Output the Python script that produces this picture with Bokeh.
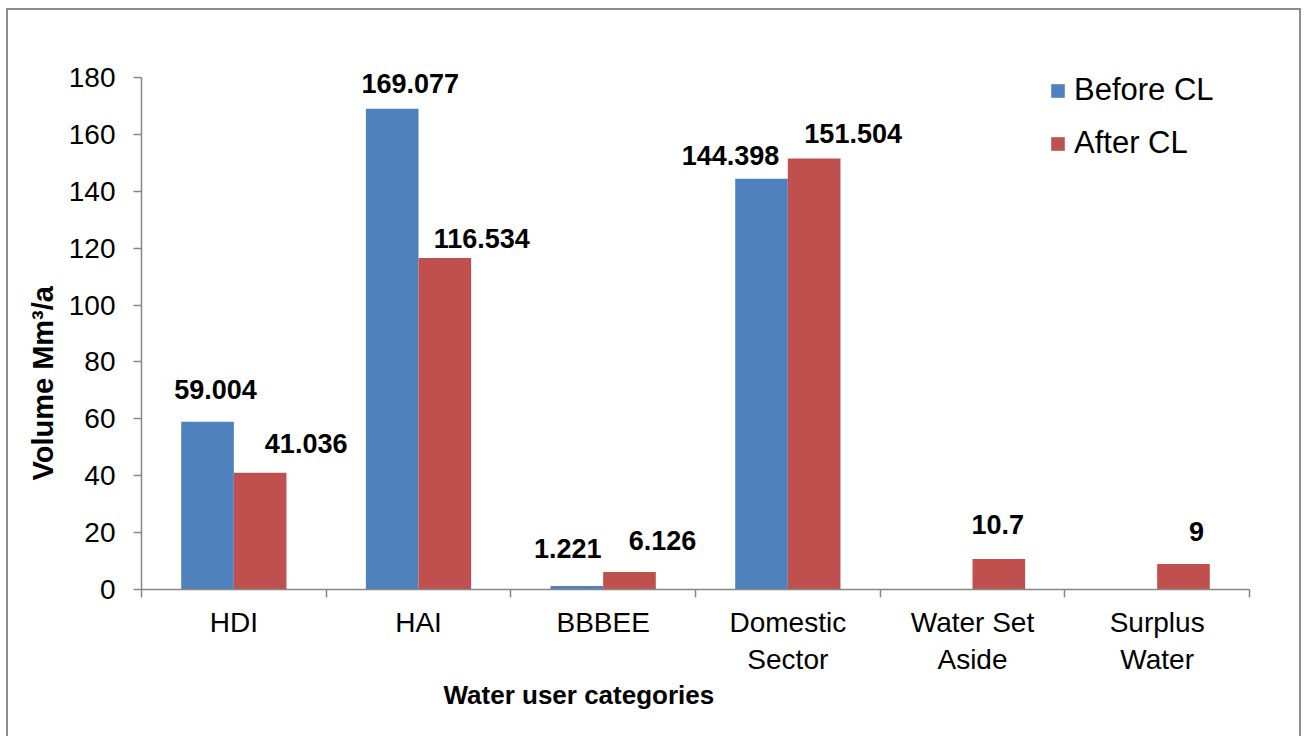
from bokeh.plotting import figure
from bokeh.models import ColumnDataSource, FixedTicker, Range1d, Legend, LegendItem, Title
from bokeh.core.properties import value
from bokeh.embed import file_html
from bokeh.resources import INLINE

# ---- data ----
CATEGORIES = ["HDI", "HAI", "BBBEE", "Domestic\nSector", "Water Set\nAside", "Surplus\nWater"]
BEFORE_CL = [59.004, 169.077, 1.221, 144.398, 0, 0]
AFTER_CL = [41.036, 116.534, 6.126, 151.504, 10.7, 9]
BEFORE_LABELS = ["59.004", "169.077", "1.221", "144.398", "", ""]
AFTER_LABELS = ["41.036", "116.534", "6.126", "151.504", "10.7", "9"]
Y_TICKS = [0, 20, 40, 60, 80, 100, 120, 140, 160, 180]
SERIES = ["Before CL", "After CL"]

# ---- style / layout ----
BLUE = "#4F81BD"
RED = "#C0504D"
AXIS_GREY = "#868686"
FONT = "Liberation Sans"
BAR_W = 0.285
# per-label pixel nudges (label placement as in the original)
LABEL_DX_PX = [8, 18, -9, -31, 0, 0, 46, 37, 33, 39, -1, 13]
LABEL_GAP_PX = [32, 25, 38, 23, 0, 0, 29, 20, 32, 25, 35, 32]

n = len(CATEGORIES)
centers = [i + 0.5 for i in range(n)]
x_before = [c - BAR_W / 2 for c in centers]
x_after = [c + BAR_W / 2 for c in centers]

p = figure(width=1295, height=728,
           x_range=Range1d(0, n), y_range=Range1d(0, 186),
           output_backend="svg", toolbar_location=None,
           min_border_left=133, min_border_right=54,
           min_border_top=50, min_border_bottom=149,
           background_fill_color="white", border_fill_color="white",
           outline_line_color=None)
p.styles = {"margin-left": "6px", "margin-top": "8px",
            "border-left": "2px solid #8c8c8c",
            "border-top": "2px solid #8c8c8c",
            "border-right": "2px solid #8c8c8c"}
p.xgrid.visible = False
p.ygrid.visible = False

src_b = ColumnDataSource(dict(x=x_before, top=BEFORE_CL))
src_a = ColumnDataSource(dict(x=x_after, top=AFTER_CL))
rb = p.vbar(x="x", top="top", width=BAR_W, source=src_b, fill_color=BLUE, line_color=None)
ra = p.vbar(x="x", top="top", width=BAR_W, source=src_a, fill_color=RED, line_color=None)

lab_src = ColumnDataSource(dict(
    x=x_before + x_after,
    y=BEFORE_CL + AFTER_CL,
    text=BEFORE_LABELS + AFTER_LABELS,
    dx=LABEL_DX_PX,
    dy=[-g for g in LABEL_GAP_PX],
))
p.text(x="x", y="y", text="text", x_offset="dx", y_offset="dy", source=lab_src,
       text_font=value(FONT), text_font_style="bold", text_font_size="27px",
       text_align="center", text_baseline="alphabetic", text_color="black")

# y axis
ya = p.yaxis[0]
ya.ticker = FixedTicker(ticks=Y_TICKS)
ya.bounds = (0, 180)
ya.axis_line_color = AXIS_GREY
ya.axis_line_width = 1.5
ya.major_tick_line_color = AXIS_GREY
ya.major_tick_line_width = 1.5
ya.major_tick_out = 8
ya.major_tick_in = 0
ya.minor_tick_line_color = None
ya.major_label_text_font = FONT
ya.major_label_text_font_size = "28px"
ya.major_label_text_color = "black"
ya.major_label_standoff = 18

# x axis: labels at category centres, ticks at category boundaries
xa = p.xaxis[0]
xa.ticker = FixedTicker(ticks=centers, minor_ticks=list(range(n + 1)))
xa.major_label_overrides = {c: lab for c, lab in zip(centers, CATEGORIES)}
xa.axis_line_color = AXIS_GREY
xa.axis_line_width = 1.5
xa.major_tick_line_color = None
xa.major_tick_out = 0
xa.major_tick_in = 0
xa.minor_tick_line_color = AXIS_GREY
xa.minor_tick_line_width = 1.5
xa.minor_tick_out = 8
xa.minor_tick_in = 0
xa.major_label_text_font = FONT
xa.major_label_text_font_size = "28px"
xa.major_label_text_color = "black"
xa.major_label_standoff = 9

# axis titles
yt = Title(text="Volume Mm³/a", align="left", offset=109, standoff=13,
           text_font=FONT, text_font_size="29px", text_font_style="bold",
           text_color="black")
p.add_layout(yt, "left")
xt = Title(text="Water user categories", align="left", offset=302, standoff=1,
           text_font=FONT, text_font_size="26px", text_font_style="bold",
           text_color="black")
p.add_layout(xt, "below")

legend = Legend(items=[LegendItem(label=SERIES[0], renderers=[rb]),
                       LegendItem(label=SERIES[1], renderers=[ra])],
                location=(908, 428))
legend.glyph_width = 17
legend.glyph_height = 17
legend.label_standoff = 8
legend.label_height = 34
legend.spacing = 17
legend.padding = 0
legend.margin = 0
legend.border_line_color = None
legend.background_fill_alpha = 0
legend.label_text_font = FONT
legend.label_text_font_size = "31px"
legend.label_text_color = "black"
p.add_layout(legend, "center")

open("out.html", "w").write(file_html(p, INLINE))
